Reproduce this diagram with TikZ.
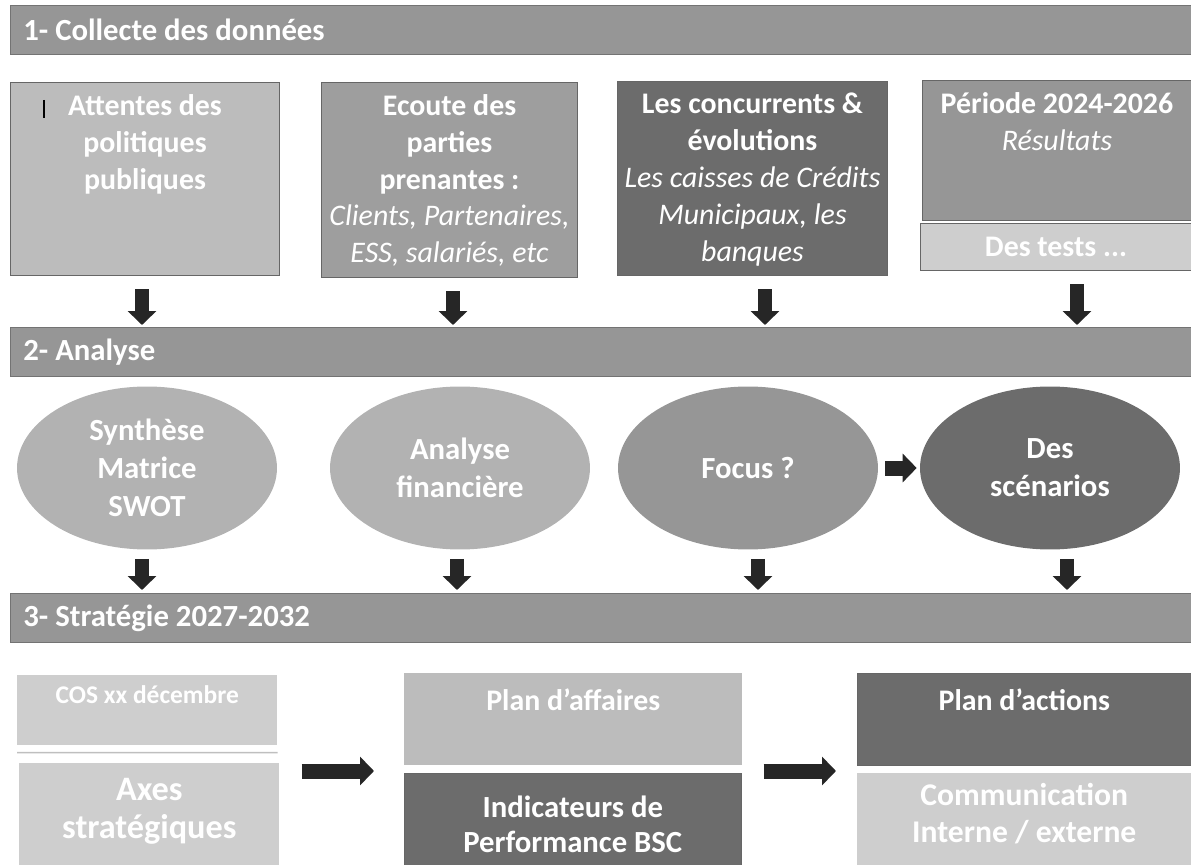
\documentclass[tikz,border=0pt]{standalone}
\usepackage{fontspec}
\setmainfont{Carlito}
\usetikzlibrary{positioning,shapes.geometric,arrows.meta}

\newcommand{\subtxt}[1]{{\mdseries\itshape #1}}

\begin{document}
\begin{tikzpicture}[x=0.02cm, y=-0.02cm,
    band/.style={draw=black!55, fill=bandgray, anchor=north west,
        minimum width=23.62cm, minimum height=0.98cm, inner sep=0pt},
    bandtxt/.style={text=white, inner sep=0pt, font=\bfseries\fontsize{17.5}{20}\selectfont},
    databox/.style={draw=black!60, line width=0.6pt, anchor=north west, inner sep=0pt},
    plainbox/.style={anchor=north west, inner sep=0pt},
    boxtxt/.style={text=white, align=center, inner sep=0pt,
        font=\bfseries\fontsize{17}{21}\selectfont},
    oval/.style={ellipse, minimum width=5.2cm, minimum height=3.26cm, inner sep=0pt,
        text=white, align=center, font=\bfseries\fontsize{17.5}{21.5}\selectfont},
    blockarrow/.style={line width=0.28cm, draw=black!85,
        -{Triangle[length=0.28cm, width=0.56cm]}}]

    % Define grey tones
    \definecolor{bandgray}{RGB}{150,150,150}
    \definecolor{lightgray}{RGB}{188,188,188}
    \definecolor{midgray}{RGB}{158,158,158}
    \definecolor{darkgray}{RGB}{108,108,108}
    \definecolor{palegray}{RGB}{206,206,206}
    \definecolor{ovalgray}{RGB}{178,178,178}

    \useasboundingbox (0,0) rectangle (1191,865);

    % Section bands
    \node[band] (band1) at (10,5) {};
    \node[bandtxt, right=0.26cm of band1.west] (title1) {1- Collecte des données};
    \node[band] (band2) at (10,327) {};
    \node[bandtxt, right=0.26cm of band2.west] (title2) {2- Analyse};
    \node[band] (band3) at (10,593) {};
    \node[bandtxt, right=0.26cm of band3.west] (title3) {3- Stratégie 2027-2032};

    % Collecte des données
    \node[databox, fill=lightgray, minimum width=5.38cm, minimum height=3.86cm] (box1) at (10,82) {};
    \node[boxtxt, below=0.24cm of box1.north] (t1) {Attentes des\\politiques\\publiques};
    \draw[line width=0.06cm] (44,100) -- (44,118);

    \node[databox, fill=midgray, minimum width=5.12cm, minimum height=3.9cm] (box2) at (321,82) {};
    \node[boxtxt, below=0.24cm of box2.north] (t2) {Ecoute des\\parties\\prenantes :\\
        \subtxt{Clients, Partenaires,}\\\subtxt{ESS, salariés, etc}};

    \node[databox, fill=darkgray, minimum width=5.4cm, minimum height=3.88cm] (box3) at (617,81) {};
    \node[boxtxt, below=0.24cm of box3.north] (t3) {Les concurrents \&\\évolutions\\
        \subtxt{Les caisses de Crédits}\\\subtxt{Municipaux, les}\\\subtxt{banques}};

    \node[databox, fill=bandgray, minimum width=5.38cm, minimum height=2.8cm] (box4) at (922,80) {};
    \node[boxtxt, below=0.24cm of box4.north] (t4) {Période 2024-2026\\\subtxt{Résultats}};
    \node[databox, fill=palegray, minimum width=5.42cm, minimum height=0.94cm,
        text=white, font=\bfseries\fontsize{17}{21}\selectfont] (tests) at (920,223) {Des tests ...};

    % Arrow columns
    \coordinate (a1) at (142,0);
    \coordinate (a2) at (453,0);
    \coordinate (a3) at (765,0);
    \coordinate (a4) at (1077,0);
    \coordinate (b1) at (142,0);
    \coordinate (b2) at (457,0);
    \coordinate (b3) at (758,0);
    \coordinate (b4) at (1067,0);

    \foreach \src/\col in {box1/a1, box2/a2, box3/a3, tests/a4}
        \draw[blockarrow, shorten <=0.26cm, shorten >=0.04cm] (\src.south -| \col) -- (band2.north -| \col);

    % Analyse
    \node[oval, fill=ovalgray] (ell1) at (147,468) {Synthèse\\Matrice\\SWOT};
    \node[oval, fill=ovalgray] (ell2) at (460,468) {Analyse\\financière};
    \node[oval, fill=bandgray] (ell3) at (748,468) {Focus ?};
    \node[oval, fill=darkgray] (ell4) at (1050,468) {Des\\scénarios};

    \draw[blockarrow, line width=0.3cm, shorten <=0.14cm, shorten >=0.06cm] (ell3.east) -- (ell4.west);

    \foreach \src/\col in {ell1/b1, ell2/b2, ell3/b3, ell4/b4}
        \draw[blockarrow, shorten <=0.18cm, shorten >=0.06cm] (\src.south -| \col) -- (band3.north -| \col);

    % Stratégie
    \node[plainbox, fill=palegray, minimum width=5.2cm, minimum height=1.4cm] (cos) at (17,675) {};
    \node[boxtxt, font=\bfseries\fontsize{14.5}{18}\selectfont, below=0.2cm of cos.north] (tcos) {COS xx décembre};
    \draw[black!25, line width=0.8pt] (cos.south west) ++(0,7) -- ([yshift=-0.14cm]cos.south east);
    \node[plainbox, fill=palegray, minimum width=5.2cm, minimum height=2.04cm] (axes) at (19,763) {};
    \node[boxtxt, font=\bfseries\fontsize{19.5}{21.5}\selectfont, below=0.3cm of axes.north] (taxes) {Axes\\stratégiques};

    \node[plainbox, fill=lightgray, minimum width=6.76cm, minimum height=1.84cm] (aff) at (404,673) {};
    \node[boxtxt, below=0.3cm of aff.north] (taff) {Plan d’affaires};
    \node[plainbox, draw=black!60, fill=darkgray, minimum width=6.74cm, minimum height=1.84cm] (ind) at (404,773) {};
    \node[boxtxt, font=\bfseries\fontsize{17.5}{19.5}\selectfont, below=0.46cm of ind.north] (tind) {Indicateurs de\\Performance BSC};

    \node[plainbox, draw=black!60, fill=darkgray, minimum width=6.68cm, minimum height=1.84cm] (act) at (857,673) {};
    \node[boxtxt, below=0.3cm of act.north] (tact) {Plan d’actions};
    \node[plainbox, fill=palegray, minimum width=6.68cm, minimum height=1.84cm] (com) at (857,773) {};
    \node[boxtxt, font=\bfseries\fontsize{18}{21}\selectfont, below=0.2cm of com.north] (tcom) {Communication\\Interne / externe};

    \coordinate (gap) at (0,771);
    \draw[blockarrow, line width=0.3cm, shorten <=0.44cm, shorten >=0.6cm] (axes.east |- gap) -- (aff.west |- gap);
    \draw[blockarrow, line width=0.3cm, shorten <=0.42cm, shorten >=0.42cm] (aff.east |- gap) -- (act.west |- gap);

\end{tikzpicture}
\end{document}
